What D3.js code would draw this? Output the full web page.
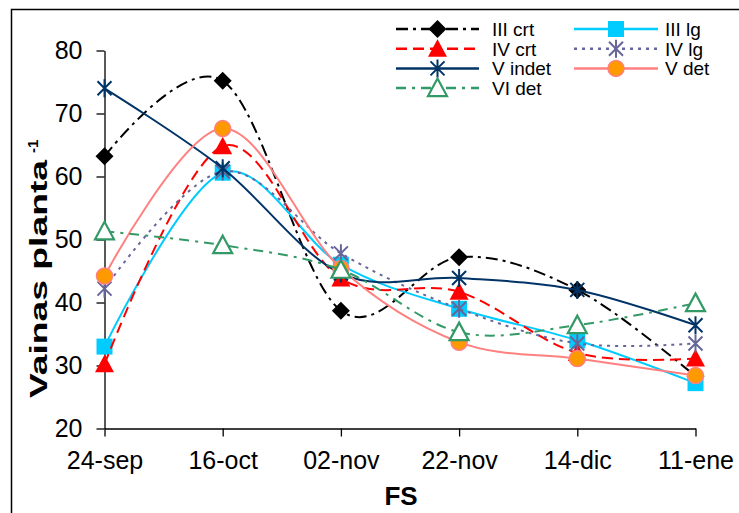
<!DOCTYPE html>
<html>
<head>
<meta charset="utf-8">
<script src="https://cdn.jsdelivr.net/npm/d3@7"></script>
<style>
  body { margin: 0; background: #fff; }
  svg { display: block; font-family: "Liberation Sans", Arial, sans-serif; }
</style>
</head>
<body>
<svg id="chart" width="739" height="513"></svg>
<script>
// categories (sowing dates) and tick labels
var categories = ['24-sep', '16-oct', '02-nov', '22-nov', '14-dic', '11-ene'];
var yTicks = [20, 30, 40, 50, 60, 70, 80];

// pods per plant, one array per series
var IIIcrt = [63.2, 75.2, 38.7, 47.2, 42.0, 28.3];
var IIIlg = [33.0, 60.6, 46.0, 39.0, 34.0, 27.2];
var IVcrt = [30.2, 64.8, 43.8, 41.7, 32.0, 31.1];
var IVlg = [42.2, 60.8, 47.8, 39.0, 33.5, 33.5];
var Vindet = [74.0, 61.3, 44.6, 43.9, 42.0, 36.4];
var Vdet = [44.2, 67.6, 45.4, 33.7, 31.1, 28.4];
var VIdet = [51.3, 49.1, 45.2, 35.3, 36.4, 39.9];

var seriesNames = ['III crt', 'III lg', 'IV crt', 'IV lg', 'V indet', 'V det', 'VI det'];

/* Drawing order follows the legend (row by row). */
var series = [
  {name: seriesNames[0], values: IIIcrt, stroke: '#000000', width: 2, dash: '12,5,3,5', marker: 'diamond', fill: '#000000', mstroke: 'none'},
  {name: seriesNames[1], values: IIIlg, stroke: '#00ccff', width: 2, dash: null, marker: 'square', fill: '#00ccff', mstroke: 'none'},
  {name: seriesNames[2], values: IVcrt, stroke: '#ff0000', width: 2, dash: '11,6', marker: 'triangle', fill: '#ff0000', mstroke: 'none'},
  {name: seriesNames[3], values: IVlg, stroke: '#666699', width: 2, dash: '3,5', marker: 'star', fill: 'none', mstroke: '#666699'},
  {name: seriesNames[4], values: Vindet, stroke: '#003366', width: 2, dash: null, marker: 'star', fill: 'none', mstroke: '#003366'},
  {name: seriesNames[5], values: Vdet, stroke: '#ff8080', width: 2, dash: null, marker: 'circle', fill: '#ff9900', mstroke: '#ff8080'},
  {name: seriesNames[6], values: VIdet, stroke: '#339966', width: 2, dash: '10,6,3,6', marker: 'triangle', fill: '#ffffff', mstroke: '#339966'}
];

var svg = d3.select('#chart');

// outer chart frame (runs past the picture on the right and bottom)
svg.append('rect')
  .attr('x', 11.5).attr('y', 9.5)
  .attr('width', 1000).attr('height', 1000)
  .attr('fill', '#fff')
  .attr('stroke', '#000')
  .attr('stroke-width', 1.5);

var x = d3.scalePoint().domain(categories).range([104.5, 695.5]);
var y = d3.scaleLinear().domain([20, 80]).range([428.5, 50.5]);

function markerPath(type) {
  if (type === 'diamond') { return 'M0,-9L9,0L0,9L-9,0Z'; }
  if (type === 'square') { return 'M-8,-8H8V8H-8Z'; }
  if (type === 'triangle') { return 'M0,-9.5L9.5,8L-9.5,8Z'; }
  if (type === 'star') { return 'M-7,-7L7,7M-7,7L7,-7M0,-9L0,9'; }
  return null;
}

function drawMarker(g, s, cx, cy) {
  if (s.marker === 'circle') {
    g.append('circle')
      .attr('cx', cx).attr('cy', cy).attr('r', 8)
      .attr('fill', s.fill)
      .attr('stroke', s.mstroke)
      .attr('stroke-width', 1.5);
    return;
  }
  g.append('path')
    .attr('transform', 'translate(' + cx + ',' + cy + ')')
    .attr('d', markerPath(s.marker))
    .attr('fill', s.fill)
    .attr('stroke', s.mstroke)
    .attr('stroke-width', s.marker === 'star' ? 2 : 2.2);
}

// axes
var yAxis = svg.append('g')
  .attr('transform', 'translate(' + x.range()[0] + ',0)')
  .call(d3.axisLeft(y).tickValues(yTicks).tickSize(8).tickPadding(14).tickSizeOuter(0));

var xAxis = svg.append('g')
  .attr('transform', 'translate(0,' + y(20) + ')')
  .call(d3.axisBottom(x).tickSize(8).tickPadding(15).tickSizeOuter(0));

[yAxis, xAxis].forEach(function (ax) {
  ax.select('.domain').attr('stroke', '#000').attr('stroke-width', 1.3);
  ax.selectAll('.tick line').attr('stroke', '#000').attr('stroke-width', 1.3);
  ax.selectAll('.tick text')
    .attr('fill', '#000')
    .style('font-size', '25px')
    .style('font-family', '"Liberation Sans", Arial, sans-serif');
});

// series lines (Excel style smoothing) and markers
var line = d3.line()
  .x(function (d, i) { return x(categories[i]); })
  .y(function (d) { return y(d); })
  .curve(d3.curveCardinal.tension(0));

series.forEach(function (s) {
  var g = svg.append('g').attr('class', 'series');
  g.append('path')
    .attr('d', line(s.values))
    .attr('fill', 'none')
    .attr('stroke', s.stroke)
    .attr('stroke-width', s.width)
    .attr('stroke-dasharray', s.dash);
  s.values.forEach(function (v, i) {
    drawMarker(g, s, x(categories[i]), y(v));
  });
});

// axis titles
var yTitle = svg.append('g').attr('transform', 'translate(47,398) rotate(-90)');
yTitle.append('text')
  .attr('x', 0).attr('y', 0)
  .attr('textLength', 238)
  .attr('lengthAdjust', 'spacingAndGlyphs')
  .style('font-size', '24px')
  .style('font-weight', 'bold')
  .text('Vainas planta');
yTitle.append('text')
  .attr('x', 245).attr('y', -9)
  .style('font-size', '15px')
  .style('font-weight', 'bold')
  .text('-1');

svg.append('text')
  .attr('x', 401).attr('y', 505)
  .attr('text-anchor', 'middle')
  .style('font-size', '26px')
  .style('font-weight', 'bold')
  .text('FS');

// legend, two columns filled row by row
var legend = svg.append('g').attr('class', 'legend');
series.forEach(function (s, i) {
  var col = i % 2,
      row = Math.floor(i / 2),
      x0 = col === 0 ? 396 : 574,
      x1 = col === 0 ? 479 : 658,
      base = 36 + row * 19.7,
      cy = base - 7;
  legend.append('line')
    .attr('x1', x0).attr('x2', x1)
    .attr('y1', cy).attr('y2', cy)
    .attr('stroke', s.stroke)
    .attr('stroke-width', s.width + 0.5)
    .attr('stroke-dasharray', s.dash);
  drawMarker(legend, s, (x0 + x1) / 2, cy);
  legend.append('text')
    .attr('x', col === 0 ? 492 : 665)
    .attr('y', base)
    .style('font-size', '19px')
    .text(s.name);
});
</script>
</body>
</html>
